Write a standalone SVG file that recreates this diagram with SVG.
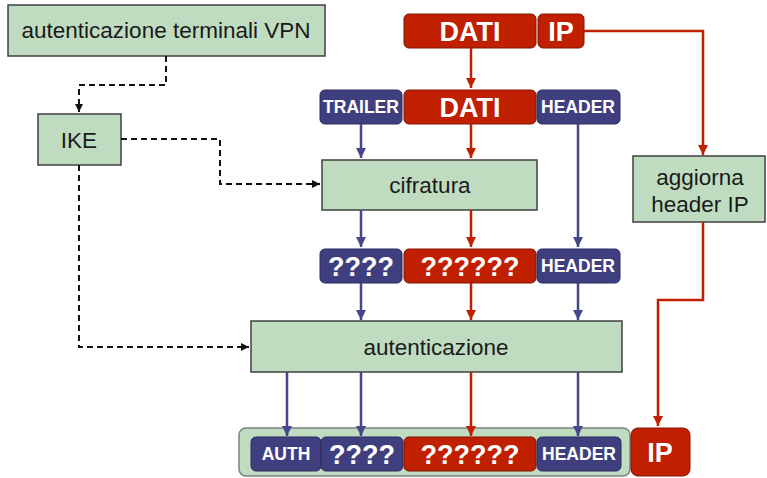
<svg xmlns="http://www.w3.org/2000/svg" width="767" height="478" viewBox="0 0 767 478">
  <style>
    .proc { fill: #c0dcc0; stroke: #404040; stroke-width: 1.5; }
    .blue { fill: #3f3f80; stroke: #2c2c60; stroke-width: 1; }
    .red { fill: #c02000; stroke: #801400; stroke-width: 1; }
    .lbl { font-family: "Liberation Sans", Arial, sans-serif; font-size: 22.5px; fill: #1a1a1a; text-anchor: middle; }
    .w { font-family: "Liberation Sans", Arial, sans-serif; font-weight: bold; fill: #ffffff; text-anchor: middle; }
    .big { font-size: 27px; }
    .sm { font-size: 17.5px; }
    .dash { fill: none; stroke: #111; stroke-width: 2; stroke-dasharray: 6 4; }
    .lb { fill: none; stroke: #46468a; stroke-width: 2.5; }
    .lr { fill: none; stroke: #c02000; stroke-width: 2.5; }
  </style>
  <defs>
    <marker id="ab" markerUnits="userSpaceOnUse" markerWidth="12" markerHeight="12" refX="10" refY="6" orient="auto">
      <path d="M0,1 L10,6 L0,11 z" fill="#46468a"/>
    </marker>
    <marker id="ar" markerUnits="userSpaceOnUse" markerWidth="12" markerHeight="12" refX="10" refY="6" orient="auto">
      <path d="M0,1 L10,6 L0,11 z" fill="#c02000"/>
    </marker>
    <marker id="ak" markerUnits="userSpaceOnUse" markerWidth="10" markerHeight="10" refX="8" refY="5" orient="auto">
      <path d="M0,1 L8,5 L0,9 z" fill="#111"/>
    </marker>
  </defs>

  <!-- process boxes -->
  <g id="auth-vpn">
    <rect class="proc" x="8" y="5" width="317" height="51"/>
    <text class="lbl" x="166" y="38">autenticazione terminali VPN</text>
  </g>
  <g id="ike">
    <rect class="proc" x="38" y="114" width="83" height="51"/>
    <text class="lbl" x="79" y="148">IKE</text>
  </g>
  <g id="cifratura">
    <rect class="proc" x="322" y="160" width="215" height="50"/>
    <text class="lbl" x="430" y="193">cifratura</text>
  </g>
  <g id="autenticazione">
    <rect class="proc" x="251" y="321" width="371" height="51"/>
    <text class="lbl" x="436" y="355">autenticazione</text>
  </g>
  <g id="aggiorna">
    <rect class="proc" x="633" y="156" width="132" height="66"/>
    <text class="lbl" x="700" y="185">aggiorna</text>
    <text class="lbl" x="700" y="212">header IP</text>
  </g>

  <!-- original packet -->
  <g id="pkt-in">
    <rect class="red" x="404" y="14" width="132" height="34" rx="5"/>
    <text class="w big" x="470" y="41">DATI</text>
    <rect class="red" x="538" y="14" width="46" height="34" rx="5"/>
    <text class="w big" x="561" y="41">IP</text>
  </g>

  <!-- packet with trailer and header -->
  <g id="pkt-plain">
    <rect class="blue" x="320" y="90" width="82" height="34" rx="5"/>
    <text class="w sm" x="361" y="113">TRAILER</text>
    <rect class="red" x="404" y="90" width="132" height="34" rx="5"/>
    <text class="w big" x="470" y="117">DATI</text>
    <rect class="blue" x="537" y="90" width="83" height="34" rx="5"/>
    <text class="w sm" x="578" y="113">HEADER</text>
  </g>

  <!-- encrypted packet -->
  <g id="pkt-enc">
    <rect class="blue" x="320" y="249" width="82" height="34" rx="5"/>
    <text class="w big" x="361" y="276">????</text>
    <rect class="red" x="404" y="249" width="132" height="34" rx="5"/>
    <text class="w big" x="470" y="276">??????</text>
    <rect class="blue" x="537" y="249" width="83" height="34" rx="5"/>
    <text class="w sm" x="578" y="272">HEADER</text>
  </g>

  <!-- output packet -->
  <g id="pkt-out">
    <rect x="239" y="428" width="391" height="48" rx="7" fill="#c0dcc0" stroke="#808080" stroke-width="1.5"/>
    <rect class="blue" x="251" y="437" width="70" height="34" rx="5"/>
    <text class="w sm" x="286" y="460">AUTH</text>
    <rect class="blue" x="321" y="437" width="82" height="34" rx="5"/>
    <text class="w big" x="362" y="464">????</text>
    <rect class="red" x="404" y="437" width="132" height="34" rx="5"/>
    <text class="w big" x="470" y="464">??????</text>
    <rect class="blue" x="537" y="437" width="84" height="34" rx="5"/>
    <text class="w sm" x="579" y="460">HEADER</text>
  </g>
  <g id="ip-out">
    <rect class="red" x="631" y="428" width="59" height="48" rx="7"/>
    <text class="w big" x="660" y="462">IP</text>
  </g>

  <!-- connectors (drawn last so heads sit on top of the packet frame) -->
  <g id="connectors">
    <path class="dash" d="M166,56 V85 H79 V112" marker-end="url(#ak)"/>
    <path class="dash" d="M121,139 H220 V184 H320" marker-end="url(#ak)"/>
    <path class="dash" d="M79,165 V347 H249" marker-end="url(#ak)"/>

    <path class="lr" d="M471,48 V88" marker-end="url(#ar)"/>
    <path class="lr" d="M584,31 H703 V155" marker-end="url(#ar)"/>
    <path class="lr" d="M703,222 V300 H658 V426" marker-end="url(#ar)"/>

    <path class="lb" d="M361,124 V158" marker-end="url(#ab)"/>
    <path class="lr" d="M471,124 V158" marker-end="url(#ar)"/>
    <path class="lb" d="M578,124 V247" marker-end="url(#ab)"/>
    <path class="lb" d="M361,210 V247" marker-end="url(#ab)"/>
    <path class="lr" d="M471,210 V247" marker-end="url(#ar)"/>

    <path class="lb" d="M361,283 V320" marker-end="url(#ab)"/>
    <path class="lr" d="M471,283 V320" marker-end="url(#ar)"/>
    <path class="lb" d="M578,283 V320" marker-end="url(#ab)"/>

    <path class="lb" d="M287,372 V436" marker-end="url(#ab)"/>
    <path class="lb" d="M361,372 V436" marker-end="url(#ab)"/>
    <path class="lr" d="M471,372 V436" marker-end="url(#ar)"/>
    <path class="lb" d="M578,372 V436" marker-end="url(#ab)"/>
  </g>
</svg>
